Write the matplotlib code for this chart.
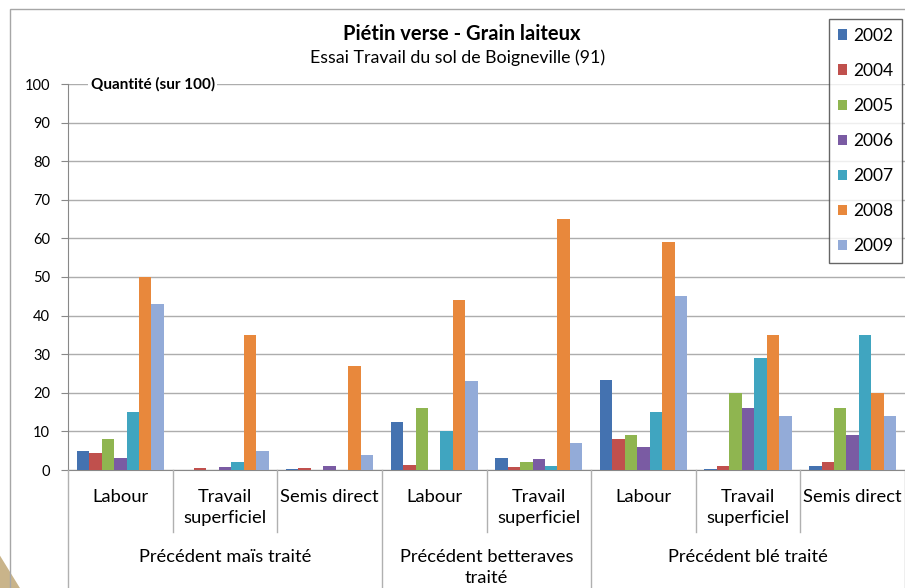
import matplotlib
matplotlib.use("Agg")
import matplotlib.pyplot as plt
from matplotlib.patches import Rectangle, Polygon
from matplotlib.lines import Line2D
import matplotlib.transforms as mtransforms
import numpy as np

plt.rcParams.update({"font.family": ["Lato", "DejaVu Sans"]})

# ── données ──
years = ["2002", "2004", "2005", "2006", "2007", "2008", "2009"]
sub_labels = ["Labour", "Travail\nsuperficiel", "Semis direct",
              "Labour", "Travail\nsuperficiel",
              "Labour", "Travail\nsuperficiel", "Semis direct"]
groups = ["Précédent maïs traité", "Précédent betteraves\ntraité", "Précédent blé traité"]
group_sizes = [3, 2, 3]

v2002 = [4.8, 0.0, 0.2, 12.5, 3.2, 23.3, 0.2, 1.0]
v2004 = [4.5, 0.4, 0.5, 1.2, 0.8, 8.0, 1.0, 2.0]
v2005 = [8.0, 0.0, 0.0, 16.0, 2.0, 9.0, 20.0, 16.0]
v2006 = [3.0, 0.9, 1.0, 0.0, 2.9, 6.0, 16.0, 9.0]
v2007 = [15.0, 2.0, 0.0, 10.0, 1.0, 15.0, 29.0, 35.0]
v2008 = [50.0, 35.0, 27.0, 44.0, 65.0, 59.0, 35.0, 20.0]
v2009 = [43.0, 5.0, 4.0, 23.0, 7.0, 45.0, 14.0, 14.0]
series = [v2002, v2004, v2005, v2006, v2007, v2008, v2009]

colors = ["#4472B0", "#C0504D", "#8FB550", "#7A5BA3", "#40A5C0", "#E8883C", "#93ABD8"]

fig = plt.figure(figsize=(9.05, 5.88), dpi=100)
fig.patch.set_facecolor("white")

# décor de fond (coin de la diapositive)
fig.patches.append(Polygon([(0, 0), (0.022, 0), (0, 0.055)], closed=True,
                           transform=fig.transFigure, facecolor="#C9B48A",
                           edgecolor="none", zorder=0))
# cadre du graphique
fig.patches.append(Rectangle((10 / 905, -0.01), 1.0, 1 - 9 / 588 + 0.01,
                             transform=fig.transFigure, facecolor="none",
                             edgecolor="#A6A6A6", lw=1.0, zorder=1))

ax = fig.add_axes([68 / 905, 1 - 470 / 588, 1 - 68 / 905, (470 - 84) / 588])
n = len(sub_labels)
x = np.arange(n)
bw = 0.119
for i, (vals, c, yr) in enumerate(zip(series, colors, years)):
    ax.bar(x + (i - 3) * bw, vals, width=bw, color=c, label=yr, zorder=3)

ax.set_xlim(-0.5, n - 0.5)
ax.set_ylim(0, 100)
ax.set_yticks(range(0, 101, 10))
ax.tick_params(axis="y", labelsize=10.5, length=5, color="#888888", pad=8)
ax.set_xticks([])
ax.yaxis.grid(True, color="#ADADAD", lw=1.0, zorder=0)
for s in ["top", "right"]:
    ax.spines[s].set_visible(False)
ax.spines["left"].set_color("#888888")
ax.spines["bottom"].set_color("#888888")

ax.text(0.027, 100, "Quantité (sur 100)", transform=mtransforms.blended_transform_factory(ax.transAxes, ax.transData),
        fontsize=11, fontweight="bold", va="center", ha="left",
        bbox=dict(facecolor="white", edgecolor="none", pad=1.5), zorder=4)

# titre
fig.text(462 / 905, 1 - 34 / 588, "Piétin verse - Grain laiteux", ha="center", va="center",
         fontsize=14.5, fontweight="bold")
fig.text(458 / 905, 1 - 58 / 588, "Essai Travail du sol de Boigneville (91)", ha="center", va="center",
         fontsize=12.8)

# légende
leg = ax.legend(loc="upper left", bbox_to_anchor=(829 / 905, 1 - 19 / 588),
                bbox_transform=fig.transFigure, fontsize=12.5, frameon=True,
                fancybox=False, edgecolor="#404040", handlelength=0.55, handleheight=0.55,
                labelspacing=1.1, borderpad=0.5, handletextpad=0.35, borderaxespad=0)
leg.get_frame().set_linewidth(1.0)

# axe des catégories hiérarchique
tr = mtransforms.blended_transform_factory(ax.transData, fig.transFigure)
def fy(py):
    return 1 - py / 588

bounds = np.cumsum([0] + group_sizes)
for i in range(n + 1):
    xb = i - 0.5
    if i in bounds:
        y_end = fy(588)
    else:
        y_end = fy(532)
    fig.add_artist(Line2D([xb, xb], [fy(470), y_end], transform=tr, color="#B0B0B0", lw=1.0))
for i, lab in enumerate(sub_labels):
    fig.text(i, fy(489), lab, transform=tr, ha="center", va="top", fontsize=13.2, linespacing=1.38)
for g, lab in enumerate(groups):
    center = (bounds[g] + bounds[g + 1] - 1) / 2
    fig.text(center, fy(549), lab, transform=tr, ha="center", va="top", fontsize=13.2, linespacing=1.38)

fig.savefig("out.png", dpi=100)
